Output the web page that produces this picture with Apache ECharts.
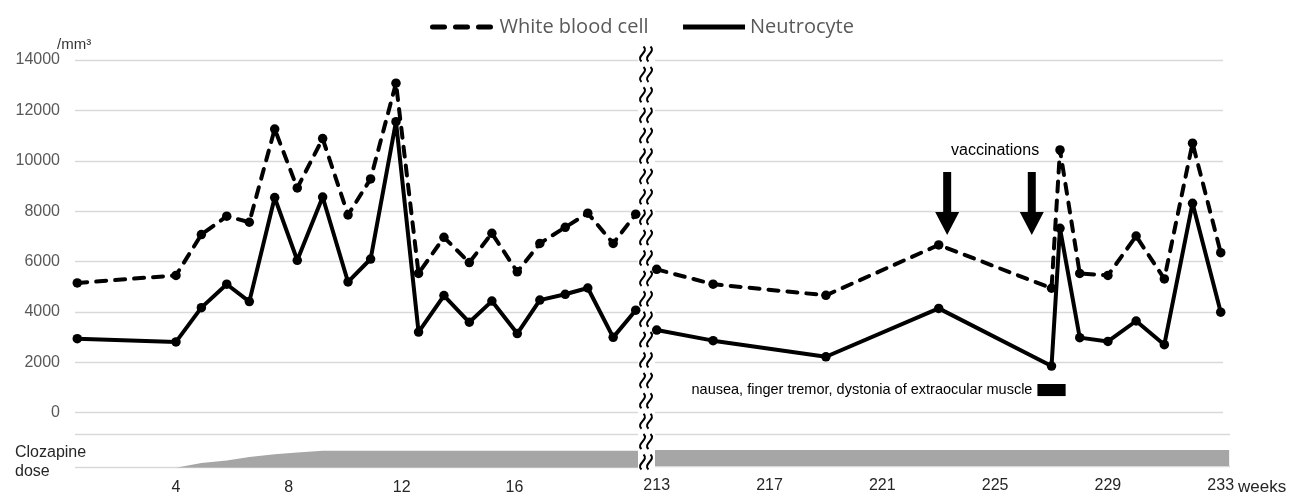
<!DOCTYPE html>
<html>
<head>
<meta charset="utf-8"/>
<title>WBC / Neutrocyte</title>
<script src="https://cdn.jsdelivr.net/npm/echarts@6.0.0/dist/echarts.min.js"></script>
<style>
	* { margin: 0; padding: 0; }
	body { background: #fff; }
	#chart { width: 1305px; height: 496px; }
</style>
</head>
<body>
<div id="chart"></div>
<script>
// weeks, left panel (before the break) and right panel (after)
const leftWeeks = [0.5, 4.0, 4.9, 5.8, 6.6, 7.5, 8.3, 9.2, 10.1, 10.9, 11.8, 12.6, 13.5, 14.4, 15.2, 16.1, 16.9, 17.8, 18.6, 19.5, 20.3];
const leftWbc = [5150, 5450, 7070, 7800, 7560, 11260, 8920, 10880, 7850, 9280, 13080, 5530, 6960, 5960, 7120, 5590, 6720, 7360, 7920, 6720, 7880];
const leftNeutro = [2940, 2810, 4170, 5100, 4410, 8540, 6050, 8560, 5190, 6100, 11550, 3200, 4650, 3590, 4430, 3140, 4470, 4700, 4950, 2990, 4070];

const rightWeeks = [213, 215, 219, 223, 227, 227.3, 228, 229, 230, 231, 232, 233];
const rightWbc = [5690, 5100, 4660, 6660, 4940, 10430, 5530, 5450, 7010, 5310, 10700, 6350];
const rightNeutro = [3280, 2860, 2220, 4140, 1850, 7320, 2980, 2830, 3640, 2700, 8310, 3990];

// clozapine dose (relative, full dose = 100)
const doseLeftWeeks = [0.4, 4.0, 4.9, 5.8, 6.6, 7.5, 8.3, 9.2, 20.4];
const doseLeft = [0, 0, 28, 42, 63, 80, 90, 100, 100];
const doseRightWeeks = [212.9, 233.3];
const doseRight = [100, 100];

const leftTicks = [4, 8, 12, 16];
const rightTicks = [213, 217, 221, 225, 229, 233];

const vaccineWeeks = [223.3, 226.3];
const vaccineLevel = 8300;
const vaccineLabelAt = [225.0, 10400];
const symptomWeeks = [226.5, 227.5];
const symptomLevel = [660, 1140];

const WBC = 'White blood cell';
const NEU = 'Neutrocyte';

function pairs(xs, ys) {
	return xs.map((x, i) => [x, ys[i]]);
}

const chart = echarts.init(document.getElementById('chart'));

const lineBase = {
	type: 'line',
	symbol: 'circle',
	symbolSize: 9.5,
	clip: false,
	color: '#000',
	itemStyle: { color: '#000' }
};
const wbcStyle = { color: '#000', width: 4, type: [10, 9], cap: 'round' };
const neuStyle = { color: '#000', width: 4, type: 'solid' };

const gridLine = { show: true, lineStyle: { color: '#d9d9d9', width: 1.3 } };
const arrowPath = 'path://M8,0L16,0L16,40L24,40L12,63L0,40L8,40Z';

// break marks between the two panels
let breakMarks = [];
for (let i = 0; i < 21; i++) {
	let cy = 54 + i * 20.4;
	[642.5, 649.5].forEach(cx => {
		breakMarks.push({
			type: 'bezierCurve',
			shape: { x1: cx + 1, y1: cy - 7.5, cpx1: cx + 7, cpy1: cy - 2, cpx2: cx - 7, cpy2: cy + 2, x2: cx - 1, y2: cy + 7.5 },
			style: { stroke: '#000', lineWidth: 2, fill: null }
		});
	});
}

const option = {
	animation: false,
	backgroundColor: '#fff',
	textStyle: { fontFamily: 'Liberation Sans, Arial, sans-serif' },
	legend: {
		left: 425,
		top: 12,
		itemWidth: 62,
		itemHeight: 20,
		itemGap: 32,
		data: [
			{ name: WBC, lineStyle: { type: [12, 11], cap: 'round', width: 5 } },
			{ name: NEU, lineStyle: { type: 'solid', width: 5 } }
		],
		itemStyle: { opacity: 0 },
		lineStyle: { width: 5 },
		textStyle: { fontFamily: 'Open Sans', fontSize: 20, color: '#595959' }
	},
	grid: [
		{ left: 75, top: 60, width: 563, height: 352.7 },
		{ left: 655, top: 60, width: 568, height: 352.7 },
		{ left: 75, top: 434, width: 563, height: 33.7 },
		{ left: 655, top: 434, width: 575, height: 33.7 }
	],
	xAxis: [
		{ gridIndex: 0, type: 'value', min: 0.42, max: 20.38, show: false },
		{ gridIndex: 1, type: 'value', min: 212.94, max: 233.08, show: false },
		{
			gridIndex: 2, type: 'value', min: 0.42, max: 20.38,
			axisLine: { show: false }, axisTick: { show: false }, splitLine: { show: false },
			axisLabel: { customValues: leftTicks, fontSize: 16, color: '#262626', margin: 12 }
		},
		{
			gridIndex: 3, type: 'value', min: 212.94, max: 233.33,
			axisLine: { show: false }, axisTick: { show: false }, splitLine: { show: false },
			axisLabel: { customValues: rightTicks, fontSize: 16, color: '#262626', margin: 12 },
			name: 'weeks', nameLocation: 'end', nameGap: 6,
			nameTextStyle: { fontSize: 17, color: '#262626', verticalAlign: 'top', padding: [13, 0, 0, 0] }
		}
	],
	yAxis: [
		{
			gridIndex: 0, type: 'value', min: 0, max: 14000, interval: 2000,
			axisLine: { show: false }, axisTick: { show: false }, splitLine: gridLine,
			axisLabel: { fontSize: 16, color: '#595959', margin: 15, formatter: v => String(v) },
			name: '/mm³', nameGap: 7,
			nameTextStyle: { fontSize: 15, color: '#333', align: 'left', padding: [0, 0, 0, -18] }
		},
		{
			gridIndex: 1, type: 'value', min: 0, max: 14000, interval: 2000,
			axisLine: { show: false }, axisTick: { show: false }, axisLabel: { show: false }, splitLine: gridLine
		},
		{
			gridIndex: 2, type: 'value', min: 0, max: 200, interval: 200,
			axisLine: { show: false }, axisTick: { show: false }, axisLabel: { show: false }, splitLine: gridLine
		},
		{
			gridIndex: 3, type: 'value', min: 0, max: 200, interval: 200,
			axisLine: { show: false }, axisTick: { show: false }, axisLabel: { show: false }, splitLine: gridLine
		}
	],
	series: [
		{
			name: 'dose-left', type: 'line', xAxisIndex: 2, yAxisIndex: 2,
			data: pairs(doseLeftWeeks, doseLeft), symbol: 'none',
			lineStyle: { width: 0 }, areaStyle: { color: '#a6a6a6', opacity: 1 }
		},
		{
			name: 'dose-right', type: 'line', xAxisIndex: 3, yAxisIndex: 3,
			data: pairs(doseRightWeeks, doseRight), symbol: 'none',
			lineStyle: { width: 0 }, areaStyle: { color: '#a6a6a6', opacity: 1 }
		},
		Object.assign({}, lineBase, {
			name: NEU, xAxisIndex: 0, yAxisIndex: 0,
			data: pairs(leftWeeks, leftNeutro), lineStyle: neuStyle
		}),
		Object.assign({}, lineBase, {
			name: WBC, xAxisIndex: 0, yAxisIndex: 0,
			data: pairs(leftWeeks, leftWbc), lineStyle: wbcStyle
		}),
		Object.assign({}, lineBase, {
			name: NEU, xAxisIndex: 1, yAxisIndex: 1,
			data: pairs(rightWeeks, rightNeutro), lineStyle: neuStyle,
			markArea: {
				silent: true,
				itemStyle: { color: '#000', opacity: 1 },
				label: {
					show: true, position: 'left', distance: 5,
					formatter: 'nausea, finger tremor, dystonia of extraocular muscle',
					color: '#000', fontSize: 14.5
				},
				data: [[
					{ coord: [symptomWeeks[0], symptomLevel[0]] },
					{ coord: [symptomWeeks[1], symptomLevel[1]] }
				]]
			}
		}),
		Object.assign({}, lineBase, {
			name: WBC, xAxisIndex: 1, yAxisIndex: 1,
			data: pairs(rightWeeks, rightWbc), lineStyle: wbcStyle,
			markPoint: {
				silent: true,
				label: { show: false },
				data: vaccineWeeks.map(w => ({
					coord: [w, vaccineLevel],
					symbol: arrowPath,
					symbolSize: [24, 63],
					itemStyle: { color: '#000', opacity: 1 }
				})).concat([{
					coord: vaccineLabelAt,
					symbol: 'rect', symbolSize: 1,
					itemStyle: { color: 'rgba(0,0,0,0)' },
					label: { show: true, position: 'inside', formatter: 'vaccinations', color: '#000', fontSize: 16 }
				}])
			}
		})
	],
	graphic: breakMarks.concat([{
		type: 'text',
		left: 15,
		top: 443,
		style: {
			text: 'Clozapine\ndose',
			font: '16px "Liberation Sans", Arial, sans-serif',
			lineHeight: 19,
			fill: '#262626'
		}
	}])
};

chart.setOption(option);
</script>
</body>
</html>
